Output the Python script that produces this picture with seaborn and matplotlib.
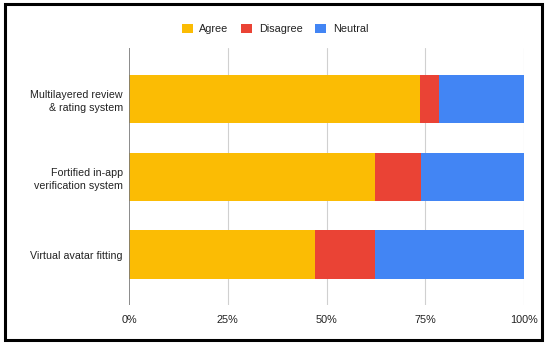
import pandas as pd
import matplotlib.pyplot as plt
import seaborn as sns
from matplotlib.patches import Patch, Rectangle

# Data (percent of respondents)
features = ["Multilayered review\n& rating system",
            "Fortified in-app\nverification system",
            "Virtual avatar fitting"]
agree = [73.6, 62.3, 47.2]
disagree = [5.0, 11.6, 15.1]
neutral = [21.4, 26.1, 37.7]
series = ["Agree", "Disagree", "Neutral"]
colors = {"Agree": "#FBBC04", "Disagree": "#EA4335", "Neutral": "#4285F4"}
ticks = [0, 25, 50, 75, 100]

df = pd.DataFrame({"feature": features, "Agree": agree,
                   "Disagree": disagree, "Neutral": neutral})
df["agree_dis"] = df["Agree"] + df["Disagree"]
df["total"] = df["agree_dis"] + df["Neutral"]

sns.set_theme(style="white")
plt.rcParams["font.family"] = ["Liberation Sans", "DejaVu Sans"]

fig = plt.figure(figsize=(5.5, 3.44), dpi=100)
ax = fig.add_axes([129 / 550, 1 - 305 / 344, 395 / 550, 257 / 344])

# stacked bars: draw cumulative totals back to front
for col, key in [("total", "Neutral"), ("agree_dis", "Disagree"), ("Agree", "Agree")]:
    sns.barplot(data=df, y="feature", x=col, color=colors[key], saturation=1,
                orient="h", width=0.62, linewidth=0, ax=ax, zorder=3)

ax.set_xlim(0, 100)
ax.set_ylim(2.65, -0.66)
ax.set_xticks(ticks)
ax.set_xticklabels([f"{t}%" for t in ticks], fontsize=7.8, color="#222222")
ax.tick_params(axis="y", labelsize=7.7, labelcolor="#222222", length=0, pad=4.5)
ax.tick_params(axis="x", length=0, pad=7)
for lab in ax.get_yticklabels():
    lab.set_multialignment("right")
    lab.set_linespacing(1.4)
ax.set_xlabel("")
ax.set_ylabel("")
for t in ticks[1:]:
    ax.axvline(t, color="#d0d0d0", lw=0.8, zorder=1)
ax.axvline(0, color="#777777", lw=1.2, zorder=4)
for s in ax.spines.values():
    s.set_visible(False)

handles = [Patch(facecolor=colors[s], edgecolor="none", label=s) for s in series]
fig.legend(handles=handles, loc="center", bbox_to_anchor=(0.5, 1 - 29 / 344),
           ncol=3, frameon=False, fontsize=7.8, handlelength=1.0, handleheight=1.0,
           columnspacing=1.2, handletextpad=0.6, labelcolor="#222222")

# outer frame
fig.patches.append(Rectangle((5 / 550, 1 - 340 / 344), 537 / 550, 336 / 344,
                             transform=fig.transFigure, fill=False,
                             edgecolor="black", lw=2.2))

fig.savefig("out.png", dpi=100)
